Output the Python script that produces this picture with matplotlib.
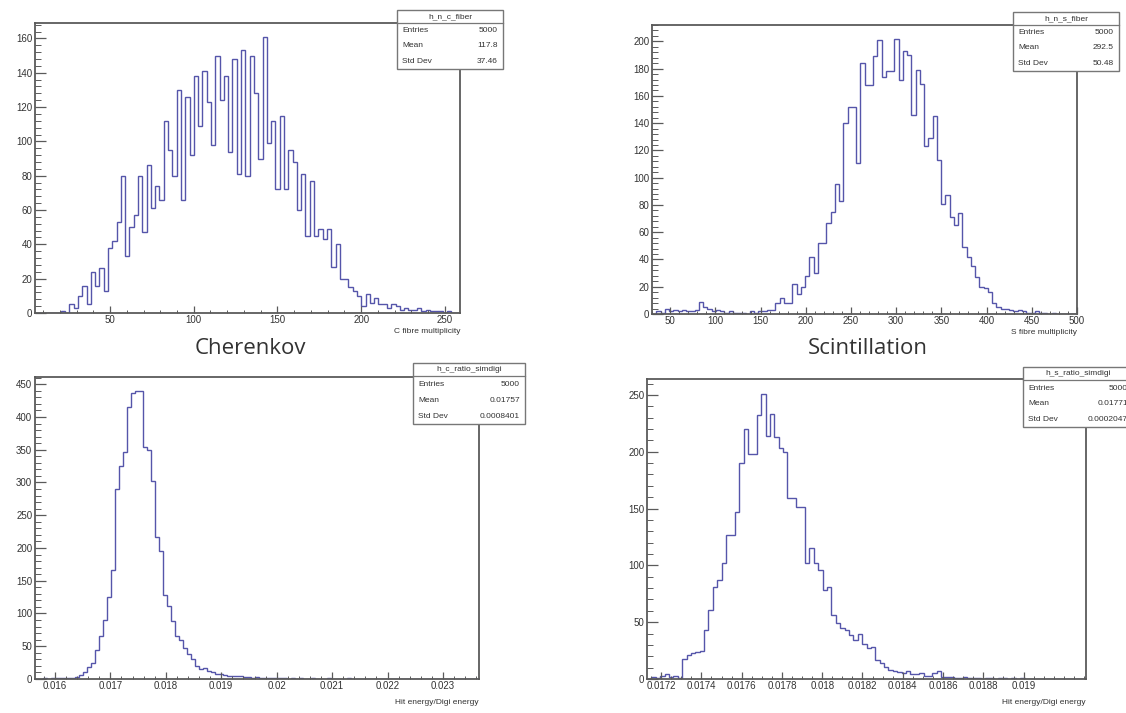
import numpy as np
import matplotlib
matplotlib.use('Agg')
import matplotlib.pyplot as plt
from matplotlib.ticker import MultipleLocator, AutoMinorLocator, FuncFormatter, FixedLocator
from matplotlib.patches import Rectangle
from matplotlib.lines import Line2D

plt.rcParams['font.family'] = ['Liberation Sans', 'DejaVu Sans']

# ---------------- data ----------------
# C fibre multiplicity: 100 bins
c_fiber_range = (5.2, 259.0)
c_fiber_counts = [0, 0, 0, 0, 0, 0,
                  1, 0, 5, 3, 10, 16, 5, 24, 16, 26,
                  13, 38, 42, 53, 80, 33, 50, 57, 80, 47,
                  86, 61, 74, 66, 112, 95, 80, 130, 66, 126,
                  92, 138, 109, 141, 123, 98, 150, 124, 138, 94,
                  148, 81, 153, 80, 150, 128, 90, 161, 99, 112,
                  72, 115, 72, 95, 88, 60, 81, 45, 77, 45,
                  49, 43, 49, 27, 40, 20, 20, 15, 13, 10,
                  4, 11, 6, 9, 5, 5, 3, 5, 4, 2,
                  3, 2, 2, 3, 1, 2, 1, 1, 1, 0,
                  1, 0, 0]

# S fibre multiplicity: 100 bins
s_fiber_range = (30.0, 500.0)
s_fiber_counts = [0, 2, 1, 4, 2, 3, 2, 3, 2, 2, 3, 9, 5, 4, 2, 3, 2, 1, 2, 1,
                  1, 1, 0, 2, 1, 2, 2, 3,
                  3, 8, 12, 8, 8, 22, 15, 20, 28, 42, 30, 52, 52, 67, 75, 95, 83,
                  140, 152, 152, 111, 184, 168, 168, 189, 201, 174, 178, 178, 202,
                  172, 193, 190, 146, 179, 169, 123, 129, 145, 113,
                  81, 87, 71, 65, 74, 49, 42, 35, 27, 20, 19, 16, 8, 5, 4, 4, 3, 2,
                  3, 2, 1, 1, 2, 1, 1,
                  0, 1, 0, 0, 0, 0, 0]

# C ratio sim/digi: 111 bins
c_ratio_range = (0.01564, 0.02365)
c_ratio_counts = [0, 0, 1, 0, 1, 2, 1, 1, 2,
                  2, 3, 6,
                  11, 19, 25, 44, 65, 90, 125, 166,
                  290, 325, 347, 415, 437, 440, 440, 354, 349, 303,
                  217, 195, 128, 112, 88, 65, 60, 47, 38, 30, 20, 15,
                  17, 12, 10, 8, 7, 6, 5, 5, 4, 4, 3, 3, 2, 3, 2, 2, 1, 2, 1, 1, 1, 0, 1,
                  0, 1, 0, 0, 1, 0, 0, 0, 1, 0, 0, 0, 0, 1, 0, 0, 0, 0, 0, 0, 0, 0, 0,
                  0, 0, 0, 0, 0, 0, 0, 0, 0, 0, 0, 0, 0, 0, 0, 0, 0, 0, 0, 0, 0, 0, 0]

# S ratio sim/digi: 100 bins
s_ratio_range = (0.01713, 0.01931)
s_ratio_counts = [0, 2, 1, 3, 4, 2, 3, 1,
                  18, 21, 23, 24, 25,
                  43, 61, 81, 87, 102, 127, 127, 147,
                  190, 220, 198, 198, 232, 251, 214, 233, 213, 203, 200,
                  159, 159, 151, 151, 102, 115, 102, 96, 78, 81,
                  56, 49, 45, 43, 39, 34, 40, 31, 27, 28,
                  17, 14, 11, 8, 7, 6, 5, 7, 4, 4, 5, 3, 3, 5, 7, 2, 2, 2, 1, 1, 2,
                  1, 1, 1, 0, 1, 1, 0, 1, 1, 0, 1, 0, 1,
                  0, 0, 0, 0, 0, 0, 0, 0, 0, 0, 0, 0, 0, 0]
s_ratio_ticks = [0.0172, 0.0174, 0.0176, 0.0178, 0.018, 0.0182, 0.0184,
                 0.0186, 0.0188, 0.019]

stats = {
    'c_fiber': ('h_n_c_fiber', ['5000', '117.8', '37.46']),
    's_fiber': ('h_n_s_fiber', ['5000', '292.5', '50.48']),
    'c_ratio': ('h_c_ratio_simdigi', ['5000', '0.01757', '0.0008401']),
    's_ratio': ('h_s_ratio_simdigi', ['5000', '0.01771', '0.0002047']),
}
stat_names = ['Entries', 'Mean', 'Std Dev']

# ---------------- figure ----------------
W, H = 1126, 713
fig = plt.figure(figsize=(W / 100, H / 100), dpi=100)

LINE = '#5555aa'
FRAME = '#5a5a5a'
TXT = '#333333'


def add_ax(l, t, r, b):
    return fig.add_axes([l / W, 1 - b / H, (r - l) / W, (b - t) / H])


def style(ax, xlim, ylim, xmaj, xminor, ymaj, yminor, fmt=None):
    ax.set_xlim(*xlim)
    ax.set_ylim(*ylim)
    for s in ax.spines.values():
        s.set_color(FRAME)
        s.set_linewidth(1.3)
    if isinstance(xmaj, list):
        ax.xaxis.set_major_locator(FixedLocator(xmaj))
        ax.xaxis.set_minor_locator(MultipleLocator((xmaj[1] - xmaj[0]) / xminor))
    else:
        ax.xaxis.set_major_locator(MultipleLocator(xmaj))
        ax.xaxis.set_minor_locator(AutoMinorLocator(xminor))
    ax.yaxis.set_major_locator(MultipleLocator(ymaj))
    ax.yaxis.set_minor_locator(AutoMinorLocator(yminor))
    ax.tick_params(axis='both', which='both', direction='in', colors=FRAME,
                   labelcolor=TXT, labelsize=7, top=False, right=False)
    ax.tick_params(axis='y', which='major', length=8, width=0.9, pad=2)
    ax.tick_params(axis='y', which='minor', length=4, width=0.7)
    ax.tick_params(axis='x', which='major', length=5, width=0.9, pad=1.5)
    ax.tick_params(axis='x', which='minor', length=2.5, width=0.7)
    if fmt is not None:
        ax.xaxis.set_major_formatter(FuncFormatter(fmt))


def hist(ax, rng, counts):
    edges = np.linspace(rng[0], rng[1], len(counts) + 1)
    ax.stairs(counts, edges, color=LINE, linewidth=1.0)


def statbox(l, t, r, b, key):
    title, vals = stats[key]
    fig.add_artist(Rectangle((l / W, 1 - b / H), (r - l) / W, (b - t) / H,
                             transform=fig.transFigure, facecolor='white',
                             edgecolor='#777777', linewidth=1.0, zorder=5))
    th = (b - t) * 0.22
    fig.add_artist(Line2D([l / W, r / W], [1 - (t + th) / H, 1 - (t + th) / H],
                          transform=fig.transFigure, color='#777777',
                          linewidth=0.9, zorder=6))
    fig.text((l + r) / 2 / W, 1 - (t + th / 2) / H, title, ha='center',
             va='center', fontsize=6, color=TXT, zorder=7)
    rh = (b - t - th) / 3
    for i, (n, v) in enumerate(zip(stat_names, vals)):
        yc = t + th + rh * (i + 0.5)
        fig.text((l + 5) / W, 1 - yc / H, n, ha='left', va='center',
                 fontsize=6, color=TXT, zorder=7)
        fig.text((r - 5) / W, 1 - yc / H, v, ha='right', va='center',
                 fontsize=6, color=TXT, zorder=7)


gfmt = lambda v, p: '%g' % round(v, 6)

# top-left
ax1 = add_ax(35, 23, 460, 313)
hist(ax1, c_fiber_range, c_fiber_counts)
style(ax1, (5.2, 259), (0, 169), 50, 5, 20, 5, gfmt)
fig.text(460 / W, 1 - 331 / H, 'C fibre multiplicity', ha='right',
         va='center', fontsize=6, color=TXT)
statbox(397, 10, 503, 69, 'c_fiber')

# top-right
ax2 = add_ax(652, 25, 1077, 314)
hist(ax2, s_fiber_range, s_fiber_counts)
style(ax2, (30, 500), (0, 212), 50, 5, 20, 5, gfmt)
fig.text(1077 / W, 1 - 332 / H, 'S fibre multiplicity', ha='right',
         va='center', fontsize=6, color=TXT)
statbox(1013, 12, 1119, 71, 's_fiber')

# bottom-left
ax3 = add_ax(35, 377, 479, 679)
hist(ax3, c_ratio_range, c_ratio_counts)
style(ax3, (0.01564, 0.02365), (0, 461), 0.001, 5, 50, 5, gfmt)
fig.text(479 / W, 1 - 702 / H, 'Hit energy/Digi energy', ha='right',
         va='center', fontsize=6, color=TXT)
statbox(413, 363, 525, 424, 'c_ratio')

# bottom-right
ax4 = add_ax(647, 379, 1086, 679)
hist(ax4, s_ratio_range, s_ratio_counts)
style(ax4, (0.01713, 0.01931), (0, 264), s_ratio_ticks, 4, 50, 5, gfmt)
fig.text(1086 / W, 1 - 703 / H, 'Hit energy/Digi energy', ha='right',
         va='center', fontsize=6, color=TXT)
statbox(1023, 367, 1133, 427, 's_ratio')

# panel captions
fig.text(250 / W, 1 - 349 / H, 'Cherenkov', ha='center', va='center',
         fontsize=16, color='#333333', family=['Open Sans', 'DejaVu Sans'])
fig.text(868 / W, 1 - 349 / H, 'Scintillation', ha='center', va='center',
         fontsize=16, color='#333333', family=['Open Sans', 'DejaVu Sans'])

fig.savefig('out.png', dpi=100)
